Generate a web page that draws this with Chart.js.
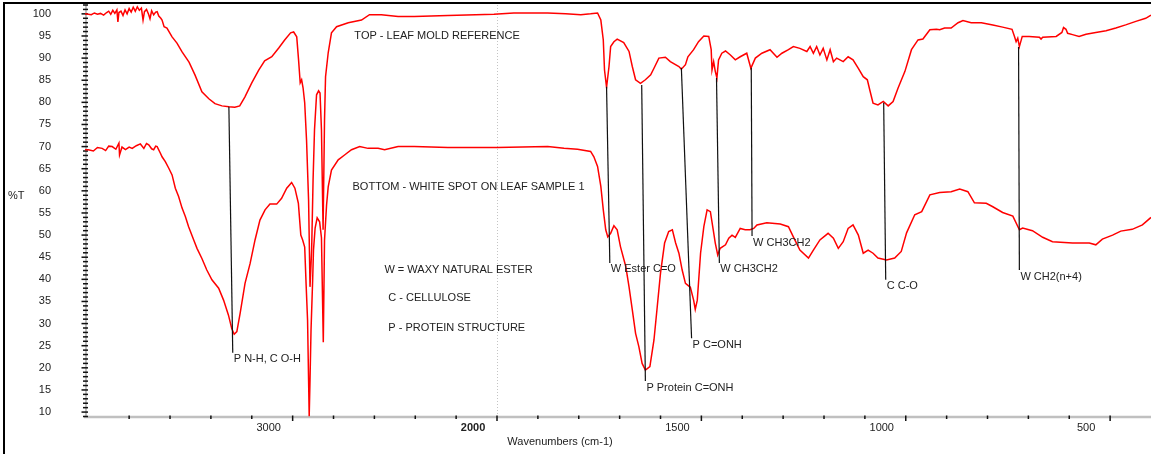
<!DOCTYPE html>
<html>
<head>
<meta charset="utf-8">
<script src="https://cdn.jsdelivr.net/npm/chart.js@4.4.1/dist/chart.umd.min.js"></script>
<style>
  html, body { margin: 0; padding: 0; background: #fff; }
  #wrap { position: relative; width: 1151px; height: 454px; }
</style>
</head>
<body>
<div id="wrap"><canvas id="ftir" width="1151" height="454"></canvas></div>
<script>
// spectra: [wavenumber cm-1, %T]
const topSpectrum = [
  [4016,100.0],[4000,99.9],[3985,99.8],[3970,100.2],[3955,99.9],[3940,100.1],[3925,99.7],[3910,100.3],[3900,100.6],[3890,99.9],
  [3880,100.8],[3870,100.1],[3860,100.9],[3855,98.2],[3850,100.3],[3840,100.6],[3830,99.6],[3820,100.9],[3810,100.0],
  [3800,101.2],[3790,100.4],[3780,101.5],[3770,100.6],[3760,101.6],[3750,100.8],[3740,101.3],[3732,98.6],[3725,100.5],
  [3715,101.0],[3705,99.9],[3698,98.9],[3690,100.7],[3680,99.8],[3670,100.4],[3663,100.5],[3655,99.5],[3645,99.0],
  [3639,98.6],[3629,97.1],[3615,96.8],[3590,94.8],[3566,93.4],[3541,91.4],[3507,89.1],[3478,86.2],[3444,82.4],
  [3410,80.8],[3380,79.7],[3346,79.2],[3312,79.0],[3283,78.9],[3259,79.2],[3234,81.2],[3200,84.4],[3166,87.3],
  [3137,89.4],[3102,90.3],[3068,92.3],[3039,94.1],[3010,95.7],[2995,95.9],[2980,94.8],[2971,89.6],[2963,84.4],
  [2956,85.1],[2949,83.3],[2941,79.9],[2932,71.5],[2922,57.9],[2915,38.3],[2907,46.6],[2900,62.5],[2893,73.8],
  [2883,81.7],[2873,82.6],[2866,82.1],[2859,73.8],[2851,51.2],[2844,76.0],[2839,85.8],[2826,91.2],[2810,95.7],
  [2785,97.1],[2728,98.0],[2663,98.6],[2624,99.8],[2566,99.8],[2484,99.4],[2405,99.4],[2240,99.6],[2015,99.9],
  [1959,100.2],[1876,100.2],[1832,100.0],[1795,99.8],[1771,100.0],[1754,100.2],[1746,98.6],[1740,94.1],[1737,87.3],
  [1732,83.4],[1726,88.1],[1722,92.6],[1714,93.7],[1706,94.3],[1690,93.5],[1677,91.5],[1669,88.1],[1661,85.1],
  [1649,84.3],[1637,85.1],[1624,86.2],[1616,87.7],[1604,90.0],[1588,90.2],[1576,89.2],[1555,88.1],[1549,87.5],
  [1539,88.5],[1533,90.3],[1519,91.9],[1507,93.7],[1494,95.0],[1482,94.9],[1476,91.9],[1474,87.3],[1470,89.2],
  [1466,87.0],[1462,85.5],[1458,89.6],[1450,91.1],[1441,91.6],[1429,90.7],[1417,89.6],[1405,90.3],[1389,91.1],
  [1379,87.7],[1368,90.0],[1352,91.1],[1332,91.9],[1315,90.2],[1303,91.1],[1287,91.9],[1275,92.6],[1259,92.2],
  [1242,91.5],[1234,92.6],[1226,91.1],[1218,92.6],[1210,90.7],[1202,92.2],[1193,89.6],[1185,91.9],[1177,89.2],
  [1169,90.0],[1153,89.2],[1141,90.3],[1129,89.6],[1116,87.7],[1104,85.8],[1094,85.1],[1088,82.8],[1080,79.8],
  [1068,79.4],[1055,80.2],[1043,79.2],[1031,80.2],[1019,83.2],[1002,87.0],[986,91.9],[970,94.1],[958,94.3],
  [941,96.4],[925,96.5],[917,96.4],[905,96.8],[889,96.8],[872,98.0],[860,98.5],[840,98.0],[815,98.0],[787,97.5],
  [763,97.0],[740,96.5],[734,94.9],[730,93.7],[726,94.5],[722,92.6],[715,94.9],[698,94.9],[673,94.7],[669,94.3],
  [665,94.7],[632,94.9],[618,95.8],[614,96.9],[608,96.5],[604,95.6],[592,95.3],[576,94.9],[559,95.4],[535,95.8],
  [510,96.2],[486,96.8],[462,97.5],[437,98.3],[413,99.0],[400,99.7]
];

const bottomSpectrum = [
  [4016,69.3],[4000,69.3],[3975,69.0],[3955,69.8],[3932,69.6],[3915,69.1],[3900,70.1],[3883,70.0],[3865,69.4],[3850,70.8],
  [3847,68.1],[3835,69.9],[3818,69.3],[3800,69.9],[3785,69.6],[3765,70.2],[3745,70.6],[3728,69.6],[3715,70.7],
  [3704,70.4],[3690,69.5],[3680,69.3],[3670,70.1],[3663,70.0],[3647,68.5],[3639,67.7],[3623,66.6],[3606,65.1],
  [3590,63.6],[3574,60.6],[3558,58.7],[3541,56.1],[3525,54.2],[3509,51.9],[3484,48.9],[3468,47.0],[3444,44.7],
  [3420,42.1],[3395,39.9],[3362,38.0],[3338,35.3],[3314,31.9],[3298,28.9],[3286,27.6],[3273,28.2],[3257,32.3],
  [3233,39.1],[3208,43.6],[3184,48.9],[3160,53.4],[3135,55.7],[3111,57.0],[3078,57.0],[3054,58.3],[3029,60.6],
  [3005,61.9],[2989,60.6],[2972,57.2],[2960,50.0],[2951,48.9],[2941,47.3],[2934,38.7],[2927,30.8],[2922,17.2],
  [2919,9.0],[2915,17.2],[2910,28.6],[2902,39.9],[2898,46.6],[2890,51.6],[2880,53.9],[2868,53.0],[2859,49.4],
  [2850,25.8],[2844,48.9],[2834,56.8],[2826,60.9],[2810,64.7],[2777,67.0],[2746,68.1],[2712,69.3],[2672,70.0],
  [2631,69.6],[2582,69.6],[2550,69.3],[2484,70.0],[2405,70.0],[2240,69.8],[2000,69.8],[1876,70.0],[1836,69.6],
  [1803,69.4],[1771,68.9],[1763,67.7],[1754,65.5],[1746,61.0],[1740,55.7],[1734,51.2],[1729,49.6],[1722,50.4],
  [1714,52.1],[1706,51.2],[1698,47.4],[1685,42.9],[1677,38.3],[1669,33.1],[1661,27.8],[1653,24.8],[1645,21.0],
  [1637,19.5],[1626,20.3],[1616,26.3],[1608,33.8],[1600,41.4],[1590,48.2],[1580,50.8],[1571,51.2],[1563,48.2],
  [1555,45.9],[1547,42.1],[1539,39.1],[1527,38.2],[1519,35.3],[1515,33.2],[1510,35.3],[1502,45.9],[1494,51.9],
  [1486,55.7],[1478,55.3],[1471,51.2],[1466,48.2],[1460,45.5],[1454,47.0],[1441,47.8],[1433,49.3],[1425,50.0],
  [1417,49.5],[1405,51.5],[1393,51.2],[1381,51.2],[1372,51.5],[1364,52.3],[1340,52.8],[1307,52.5],[1287,51.9],
  [1275,49.6],[1259,46.6],[1238,44.8],[1226,46.6],[1210,48.9],[1190,50.4],[1177,49.3],[1165,47.0],[1153,48.5],
  [1141,51.5],[1129,52.3],[1116,50.0],[1104,45.9],[1092,46.6],[1080,45.9],[1068,44.8],[1047,44.4],[1027,44.8],
  [1011,46.3],[998,50.5],[978,54.6],[961,55.3],[941,59.1],[917,59.6],[889,59.8],[868,60.4],[848,59.8],[832,57.3],
  [803,57.2],[787,56.4],[763,55.1],[738,54.3],[722,51.2],[714,51.6],[690,51.0],[665,49.5],[641,48.5],[592,48.2],
  [551,48.2],[535,47.8],[519,49.1],[494,50.0],[474,50.9],[446,51.3],[421,52.3],[400,54.0]
];

// peak marker lines: [from wn, from %T], [to wn, to %T], label under the lower end
const peakMarks = [
  [[3312, 79.0], [3293, 23.4], 'P N-H, C O-H'],
  [[1732, 83.5], [1724, 43.7], 'W Ester C=O'],
  [[1646, 83.9], [1637, 17.0], 'P Protein C=ONH'],
  [[1549, 87.8], [1524, 26.7], 'P C=ONH'],
  [[1463, 85.5], [1456, 43.7], 'W CH3CH2'],
  [[1378, 87.8], [1376, 49.8], 'W CH3CH2'],
  [[1054, 79.9], [1049, 39.9], 'C C-O'],
  [[724, 92.5], [722, 42.1], 'W CH2(n+4)']
];

// free text notes: [text, wn at left edge, %T]
const notes = [
  ['TOP - LEAF MOLD REFERENCE', 2698, 95.0],
  ['BOTTOM - WHITE SPOT ON LEAF SAMPLE 1', 2707, 60.9],
  ['W = WAXY NATURAL ESTER', 2551, 42.1],
  ['C - CELLULOSE', 2532, 35.8],
  ['P - PROTEIN STRUCTURE', 2532, 29.0]
];

const xTickValues = [3000, 2000, 1500, 1000, 500];
const yTickValues = [10, 15, 20, 25, 30, 35, 40, 45, 50, 55, 60, 65, 70, 75, 80, 85, 90, 95, 100];

// axis is expanded 2x below 2000 cm-1, like the spectrometer software does
const fold = w => (w > 2000 ? 2000 + (w - 2000) / 2 : w);
const unfold = u => (u > 2000 ? 2000 + (u - 2000) * 2 : u);

const FONT = '"Liberation Sans", Arial, sans-serif';
Chart.defaults.font.family = FONT;
Chart.defaults.font.size = 11;
Chart.defaults.color = '#222';

const toPoints = arr => arr.map(([w, t]) => ({ x: fold(w), y: t }));

const painter = {
  id: 'painter',
  beforeDatasetsDraw(chart) {
    const { ctx, chartArea: a, scales: { x, y } } = chart;
    ctx.save();
    // dotted break line at 2000
    const xb = Math.round(x.getPixelForValue(fold(2000))) + 0.5;
    ctx.strokeStyle = '#c4c4c4';
    ctx.lineWidth = 1;
    ctx.setLineDash([1, 2]);
    ctx.beginPath(); ctx.moveTo(xb, a.top); ctx.lineTo(xb, a.bottom); ctx.stroke();
    ctx.setLineDash([]);
    // gray axis lines
    ctx.strokeStyle = '#c0c0c0';
    ctx.lineWidth = 2.5;
    ctx.beginPath(); ctx.moveTo(a.left - 1, a.bottom + 0.5); ctx.lineTo(a.right, a.bottom + 0.5); ctx.stroke();
    ctx.lineWidth = 2;
    ctx.beginPath(); ctx.moveTo(a.left + 1, a.top); ctx.lineTo(a.left + 1, a.bottom); ctx.stroke();
    // x ticks: every 100 below 2000, every 200 above
    ctx.fillStyle = '#111';
    const xt = [];
    for (let w = 500; w < 2000; w += 100) xt.push(w);
    for (let w = 2000; w < 4000; w += 200) xt.push(w);
    xt.forEach(w => {
      const px = x.getPixelForValue(fold(w));
      const major = xTickValues.includes(w);
      ctx.fillRect(px - 0.75, a.bottom - 1, 1.5, major ? 5.5 : 3.5);
    });
    // y ticks: every 1 %T
    for (let v = 9; v <= 102; v++) {
      const py = y.getPixelForValue(v);
      const major = v % 5 === 0;
      ctx.fillRect(a.left - (major ? 3.5 : 2), py - 0.75, major ? 6.5 : 5, 1.5);
    }
    ctx.restore();
  },
  afterDatasetsDraw(chart) {
    const { ctx, scales: { x, y } } = chart;
    ctx.save();
    ctx.strokeStyle = '#111';
    ctx.lineWidth = 1.2;
    ctx.fillStyle = '#222';
    ctx.font = '11px ' + FONT;
    ctx.textAlign = 'left';
    ctx.textBaseline = 'middle';
    peakMarks.forEach(([from, to, label]) => {
      const x1 = x.getPixelForValue(fold(from[0])), y1 = y.getPixelForValue(from[1]);
      const x2 = x.getPixelForValue(fold(to[0])), y2 = y.getPixelForValue(to[1]);
      ctx.beginPath(); ctx.moveTo(x1, y1); ctx.lineTo(x2, y2); ctx.stroke();
      ctx.fillText(label, x2 + 1, y2 + 6.5);
    });
    notes.forEach(([text, w, t]) => {
      ctx.fillText(text, x.getPixelForValue(fold(w)), y.getPixelForValue(t));
    });
    ctx.restore();
  },
  afterDraw(chart) {
    const { ctx, width, height } = chart;
    ctx.save();
    ctx.fillStyle = '#222';
    ctx.font = '11px ' + FONT;
    ctx.textAlign = 'center';
    ctx.textBaseline = 'middle';
    ctx.fillText('Wavenumbers (cm-1)', 560, 442);
    ctx.textAlign = 'left';
    ctx.fillText('%T', 8, 196);
    // frame
    ctx.fillStyle = '#000';
    ctx.fillRect(3, 2, width - 3, 2);
    ctx.fillRect(3, 2, 2, height - 2);
    ctx.restore();
  }
};

new Chart(document.getElementById('ftir'), {
  type: 'line',
  data: {
    datasets: [
      { label: 'Top - leaf mold reference', data: toPoints(topSpectrum) },
      { label: 'Bottom - white spot on leaf sample 1', data: toPoints(bottomSpectrum) }
    ]
  },
  options: {
    responsive: false,
    animation: false,
    devicePixelRatio: 1,
    layout: { padding: { top: 5, left: 0, right: 0, bottom: 0 } },
    elements: {
      line: { borderColor: '#ff0000', borderWidth: 1.5, tension: 0, fill: false },
      point: { radius: 0 }
    },
    plugins: { legend: { display: false }, tooltip: { enabled: false } },
    scales: {
      x: {
        type: 'linear',
        reverse: true,
        min: 400,
        max: 3008,
        grid: { display: false, drawTicks: false },
        border: { display: false },
        afterBuildTicks: s => { s.ticks = xTickValues.map(w => ({ value: fold(w) })); },
        afterFit: s => { s.height = 37.5; s.paddingLeft = 0; s.paddingRight = 0; },
        ticks: {
          autoSkip: false,
          maxRotation: 0,
          padding: 5,
          labelOffset: -24,
          color: '#222',
          font: c => ({ size: 11, weight: c.tick && c.tick.value === 2000 ? 'bold' : 'normal' }),
          callback: v => String(unfold(v))
        }
      },
      y: {
        min: 9,
        max: 102,
        grid: { display: false, drawTicks: false },
        border: { display: false },
        afterBuildTicks: s => { s.ticks = yTickValues.map(v => ({ value: v })); },
        afterFit: s => { s.width = 85; s.paddingTop = 0; s.paddingBottom = 0; },
        ticks: { padding: 34, color: '#222' }
      }
    }
  },
  plugins: [painter]
});
</script>
</body>
</html>
